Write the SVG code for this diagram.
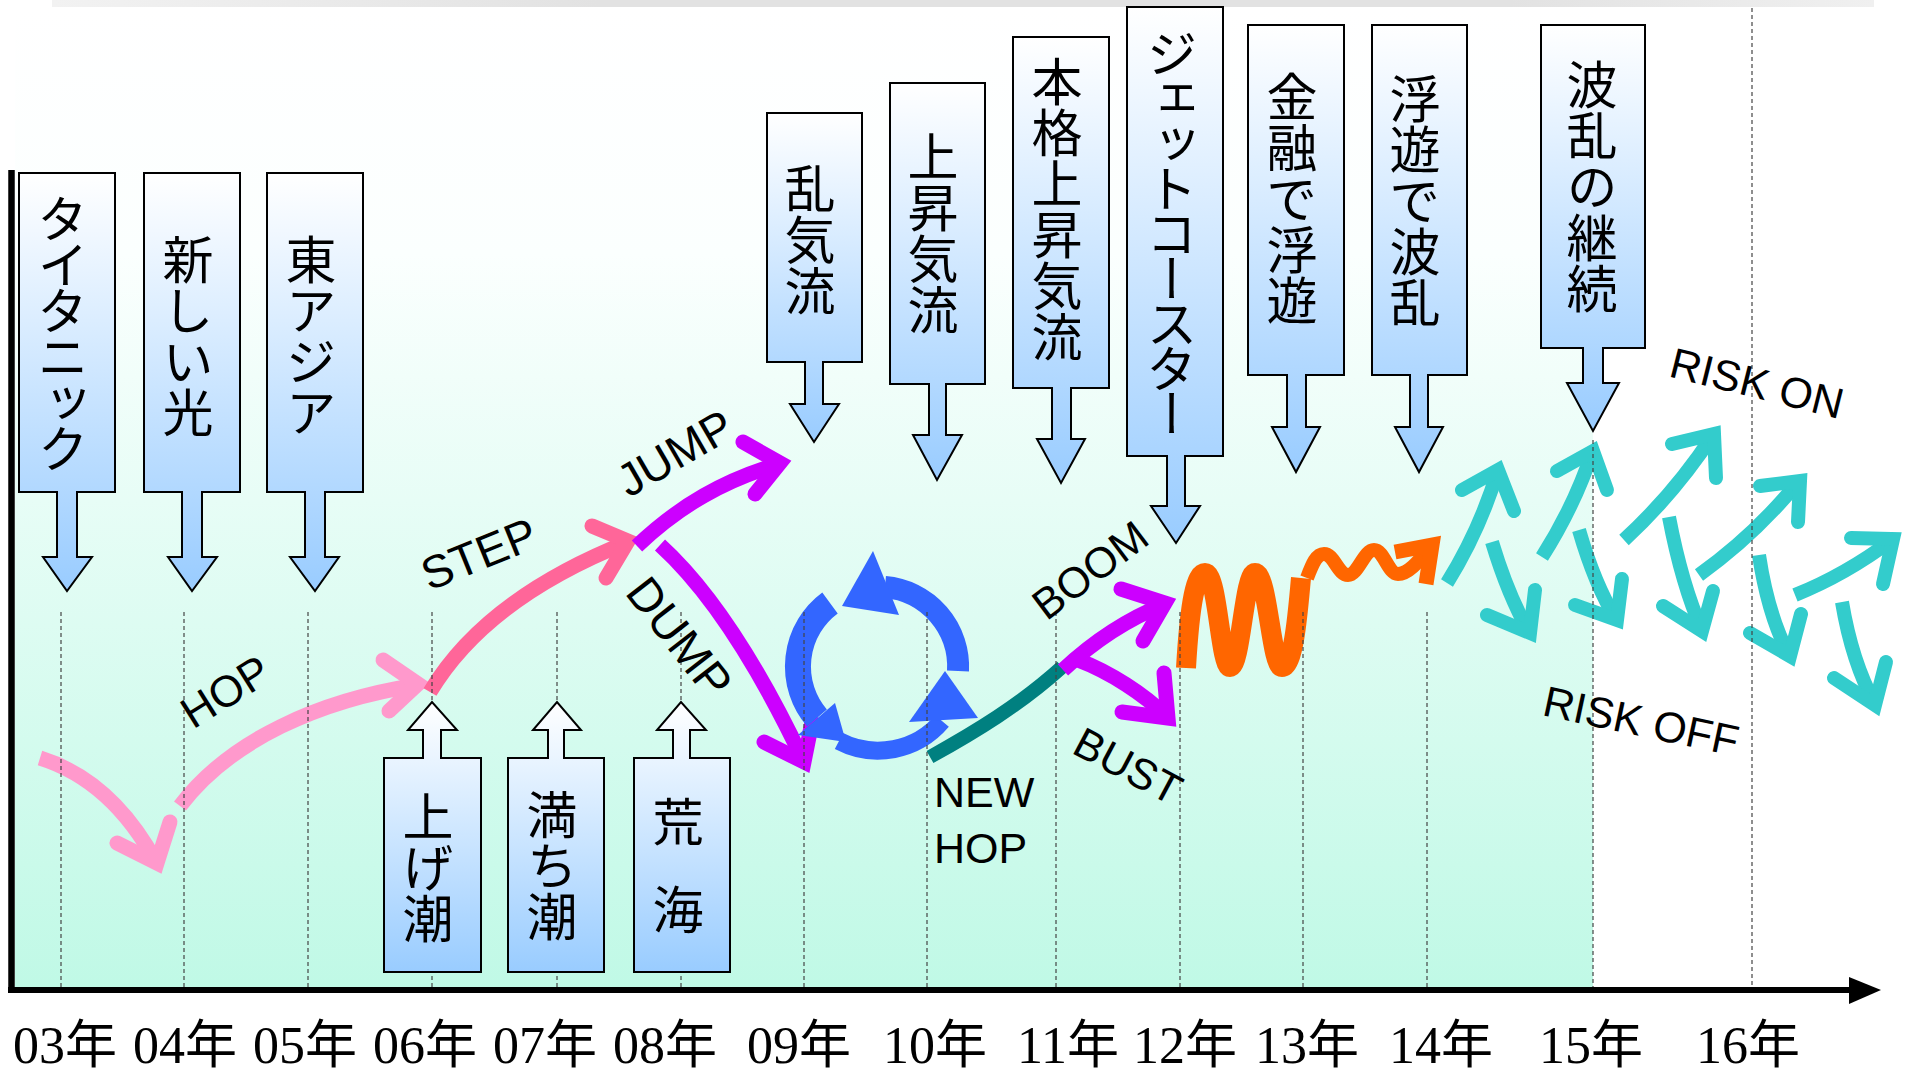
<svg xmlns="http://www.w3.org/2000/svg" width="1907" height="1074" viewBox="0 0 1907 1074">
<defs>
<linearGradient id="bg" x1="0" y1="0" x2="0" y2="1">
<stop offset="0" stop-color="#ffffff"/>
<stop offset="0.25" stop-color="#fbfffe"/>
<stop offset="1" stop-color="#c0f9e6"/>
</linearGradient>
<linearGradient id="bluebox" x1="0" y1="0" x2="0" y2="1">
<stop offset="0" stop-color="#ffffff"/>
<stop offset="1" stop-color="#99ccff"/>
</linearGradient>
<linearGradient id="topbar" x1="0" y1="0" x2="1" y2="0">
<stop offset="0" stop-color="#f2f2f2"/>
<stop offset="0.3" stop-color="#e2e2e2"/>
<stop offset="0.8" stop-color="#e2e2e2"/>
<stop offset="1" stop-color="#f0f0f0"/>
</linearGradient>
</defs>
<style>
.box{fill:url(#bluebox);stroke:#000;stroke-width:2;stroke-linejoin:miter}
.vt{font-family:"Noto Sans CJK JP","Noto Sans CJK SC",sans-serif;font-size:51px;writing-mode:vertical-rl;fill:#000}
.yr{font-family:"Liberation Serif","Noto Sans CJK JP",serif;font-size:52px;fill:#000}
.lbl{font-family:"Liberation Sans",Arial,sans-serif;text-anchor:middle;fill:#000}
.dash{stroke:#444;stroke-width:1.2;stroke-dasharray:4 3;fill:none}
.shaft{fill:none;stroke-linecap:butt}
.head{fill:none;stroke-linecap:round;stroke-linejoin:miter;stroke-miterlimit:10}
.pk{stroke:#ff99cc;stroke-width:15}
.rd{stroke:#ff6699;stroke-width:15}
.pu{stroke:#cc00ff;stroke-width:15}
.tl{stroke:#33cccc;stroke-width:14}
.bl{stroke:#3366ff;fill:none;stroke-linecap:butt}
.blh{fill:#3366ff}
.or{stroke:#ff6600;fill:none;stroke-linecap:butt}
</style>

<rect x="15" y="8" width="1578" height="980" fill="url(#bg)"/>
<rect x="52" y="0" width="1822" height="7" fill="url(#topbar)"/>

<g id="connectors">
<path class="shaft pk" d="M40,758 C85,772 125,805 156,862"/>
<path class="head pk" d="M117,843 L157,863 L170,822"/>
<path class="shaft pk" d="M180,806 C230,740 320,700 418,685"/>
<path class="head pk" d="M383,660 L418,684 L389,711"/>
<path class="shaft rd" d="M430,692 C470,625 540,577 628,542"/>
<path class="head rd" d="M592,526 L628,541 L606,578"/>
<path class="shaft pu" d="M637,546 C680,505 725,480 779,464"/>
<path class="head pu" d="M743,442 L780,463 L755,494"/>
<path class="shaft pu" d="M660,545 C715,595 765,680 803,760"/>
<path class="head pu" d="M764,742 L804,762 L812,722"/>
<g id="cycle">
<path class="bl" stroke-width="22" d="M958,671 A80,80 0 0 0 885,587"/>
<path class="blh" d="M873,551 L842,606 L899,615 Z"/>
<path class="bl" stroke-width="26" d="M830,603 A79,79 0 0 0 817,718"/>
<path class="blh" d="M835,703 L798,735 L846,742 Z"/>
<path class="bl" stroke-width="18" d="M839,741 A84,84 0 0 0 942,721"/>
<path class="blh" d="M909,722 L945,671 L978,718 Z"/>
</g>
<path class="shaft" stroke="#008080" stroke-width="14" d="M930,757 C975,732 1020,705 1062,667"/>
<path class="shaft pu" d="M1063,670 C1095,640 1130,618 1165,604"/>
<path class="head pu" d="M1121,589 L1165,603 L1143,641"/>
<path class="shaft pu" d="M1078,660 C1110,672 1145,695 1166,716"/>
<path class="head pu" d="M1122,712 L1168,718 L1164,673"/>
<path class="or" stroke-width="20" d="M1186,668 C1190,600 1196,573 1205,573 C1218,573 1220,667 1230,667 C1241,667 1244,573 1255,573 C1268,573 1271,667 1282,667 C1294,667 1298,610 1301,578"/>
<path class="or" stroke-width="14" d="M1307,578 C1312,565 1316,554 1324,554 C1334,554 1338,575 1348,575 C1358,575 1364,550 1374,550 C1384,550 1388,574 1398,574 C1408,574 1418,562 1428,550"/>
<path class="or" stroke-width="15" stroke-linejoin="miter" d="M1395,552 L1432,545 L1426,584"/>
<path class="shaft tl" d="M1447,583 Q1480,530 1498,470"/>
<path class="head tl" d="M1462,490 L1498,470 L1514,511"/>
<path class="shaft tl" d="M1492,542 Q1508,595 1529,632"/>
<path class="head tl" d="M1487,615 L1530,633 L1535,590"/>
<path class="shaft tl" d="M1542,557 Q1575,505 1593,450"/>
<path class="head tl" d="M1557,471 L1593,451 L1607,490"/>
<path class="shaft tl" d="M1579,530 Q1595,585 1616,619"/>
<path class="head tl" d="M1575,605 L1617,620 L1622,579"/>
<path class="shaft tl" d="M1624,540 Q1675,493 1713,435"/>
<path class="head tl" d="M1672,444 L1714,434 L1716,478"/>
<path class="shaft tl" d="M1669,517 Q1682,585 1702,630"/>
<path class="head tl" d="M1663,606 L1702,631 L1713,591"/>
<path class="shaft tl" d="M1699,575 Q1755,535 1799,481"/>
<path class="head tl" d="M1760,486 L1800,481 L1798,522"/>
<path class="shaft tl" d="M1759,555 Q1768,615 1789,655"/>
<path class="head tl" d="M1750,633 L1790,656 L1801,614"/>
<path class="shaft tl" d="M1795,595 Q1845,575 1892,540"/>
<path class="head tl" d="M1851,538 L1893,539 L1883,584"/>
<path class="shaft tl" d="M1842,602 Q1852,662 1875,704"/>
<path class="head tl" d="M1834,678 L1875,705 L1886,662"/>
</g>

<g id="gridlines">
<path class="dash" d="M61,612V988M184,612V988M308,612V988M432,612V988M557,612V988M681,612V988M804,612V988M927,612V988M1056,612V988M1180,612V988M1303,612V988M1427,612V988M1593,440V988M1752,8V988"/>
</g>

<g id="n-titanic"><path class="box" d="M19,173 H115 V492 H77 V557 H92 L67,591 L43,557 H57 V492 H19 Z"/><text class="vt" x="63" y="193" letter-spacing="-5">タイタニック</text></g>
<g id="n-newlight"><path class="box" d="M144,173 H240 V492 H202 V557 H217 L192,591 L168,557 H182 V492 H144 Z"/><text class="vt" x="188" y="234">新しい光</text></g>
<g id="n-eastasia"><path class="box" d="M267,173 H363 V492 H325 V557 H339 L315,591 L290,557 H305 V492 H267 Z"/><text class="vt" x="311" y="234">東アジア</text></g>
<g id="n-turb"><path class="box" d="M767,113 H862 V362 H823 V404 H839 L814,442 L790,404 H805 V362 H767 Z"/><text class="vt" x="810" y="163">乱気流</text></g>
<g id="n-up"><path class="box" d="M890,83 H985 V384 H946 V435 H962 L937,480 L913,435 H929 V384 H890 Z"/><text class="vt" x="933" y="131">上昇気流</text></g>
<g id="n-fullup"><path class="box" d="M1013,37 H1109 V388 H1071 V439 H1085 L1061,483 L1037,439 H1052 V388 H1013 Z"/><text class="vt" x="1057" y="56">本格上昇気流</text></g>
<g id="n-jet"><path class="box" d="M1127,7 H1223 V456 H1185 V506 H1200 L1176,543 L1151,506 H1167 V456 H1127 Z"/><text class="vt" x="1172" y="28" letter-spacing="-6">ジェットコースター</text></g>
<g id="n-float"><path class="box" d="M1248,25 H1344 V375 H1306 V427 H1320 L1296,472 L1272,427 H1287 V375 H1248 Z"/><text class="vt" x="1292" y="71">金融で浮遊</text></g>
<g id="n-turmoil"><path class="box" d="M1372,25 H1467 V375 H1428 V427 H1443 L1419,472 L1395,427 H1410 V375 H1372 Z"/><text class="vt" x="1415" y="73">浮遊で波乱</text></g>
<g id="n-cont"><path class="box" d="M1541,25 H1645 V348 H1603 V383 H1619 L1593,431 L1567,383 H1583 V348 H1541 Z"/><text class="vt" x="1592" y="59">波乱の継続</text></g>
<g id="n-rising"><path class="box" d="M384,972 H481 V758 H441 V730 H457 L432,702 L408,730 H423 V758 H384 Z"/><text class="vt" x="428" y="791">上げ潮</text></g>
<g id="n-high"><path class="box" d="M508,972 H604 V758 H564 V730 H581 L557,702 L533,730 H548 V758 H508 Z"/><text class="vt" x="552" y="789">満ち潮</text></g>
<g id="n-rough"><path class="box" d="M634,972 H730 V758 H690 V730 H706 L681,702 L657,730 H673 V758 H634 Z"/><text class="vt" x="678"><tspan y="796">荒</tspan><tspan y="884">海</tspan></text></g>

<g id="labels">
<text class="lbl" style="font-size:44px" transform="translate(225,691) rotate(-32)" dy="16">HOP</text>
<text class="lbl" style="font-size:46px" transform="translate(479,554) rotate(-22)" dy="16">STEP</text>
<text class="lbl" style="font-size:46px" transform="translate(675,453) rotate(-30)" dy="16">JUMP</text>
<text class="lbl" style="font-size:47px" transform="translate(680,637) rotate(52)" dy="17">DUMP</text>
<text class="lbl" style="font-size:43px" transform="translate(1090,570) rotate(-37)" dy="15">BOOM</text>
<text class="lbl" style="font-size:43px" transform="translate(1128,766) rotate(28)" dy="15">BUST</text>
<text class="lbl" style="font-size:43px" transform="translate(1757,383) rotate(14)" dy="15">RISK ON</text>
<text class="lbl" style="font-size:43px" transform="translate(1641,721) rotate(12)" dy="15">RISK OFF</text>
<text class="lbl" style="font-size:43px;text-anchor:start" x="934" y="807">NEW</text>
<text class="lbl" style="font-size:43px;text-anchor:start" x="934" y="863">HOP</text>
</g>

<g id="axes">
<path d="M11.5,170 V993" stroke="#000" stroke-width="6.5" fill="none"/>
<path d="M8,990 H1852" stroke="#000" stroke-width="6" fill="none"/>
<path d="M1849,977 L1881,990 L1849,1004 Z" fill="#000"/>
</g>

<g id="years" class="yr">
<text x="13" y="1063">03年</text>
<text x="133" y="1063">04年</text>
<text x="253" y="1063">05年</text>
<text x="373" y="1063">06年</text>
<text x="493" y="1063">07年</text>
<text x="613" y="1063">08年</text>
<text x="747" y="1063">09年</text>
<text x="883" y="1063">10年</text>
<text x="1017" y="1063">11年</text>
<text x="1133" y="1063">12年</text>
<text x="1255" y="1063">13年</text>
<text x="1389" y="1063">14年</text>
<text x="1539" y="1063">15年</text>
<text x="1696" y="1063">16年</text>
</g>
</svg>
